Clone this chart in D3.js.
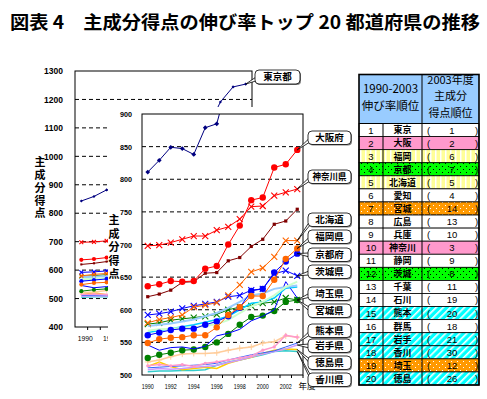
<!DOCTYPE html>
<html>
<head>
<meta charset="utf-8">
<title>主成分得点の伸び率トップ20都道府県の推移</title>
<script src="https://cdnjs.cloudflare.com/ajax/libs/d3/7.8.5/d3.min.js"></script>
<style>
    body { margin: 0; background: #fff; }
    svg { font-family: "Noto Sans CJK JP", sans-serif; }
    .num { font-family: "Liberation Sans", Arial, sans-serif; }
</style>
</head>
<body>
<svg id="chart" width="487" height="399"></svg>
<script>
// ---- data ----
const years = [1990, 1991, 1992, 1993, 1994, 1995, 1996, 1997, 1998, 1999, 2000, 2001, 2002, 2003];
const yearLabels = [1990, 1992, 1994, 1996, 1998, 2000, 2002];
const backTicks = [400, 500, 600, 700, 800, 900, 1000, 1100, 1200, 1300];
const frontTicks = [500, 550, 600, 650, 700, 750, 800, 850, 900];

const tokyo     = [811, 829, 849, 847, 838, 879, 885, 950, 1000, 1050, 1100, 1191, 1244, 1254];
const tokyoBack = [843, 859, 882, 880, 871, 912, 918, 980, 1030, 1070, 1100, 1191, 1244, 1254];
const osaka     = [636, 639, 644, 643, 644, 663, 667, 700, 729, 768, 772, 818, 823, 845];
const kanagawa  = [698, 699, 703, 708, 713, 713, 722, 727, 739, 758, 759, 775, 780, 785];
const aichi     = [620, 624, 630, 642, 643, 656, 657, 675, 680, 697, 708, 731, 736, 754];
const hokkaido  = [580, 585, 588, 592, 604, 607, 611, 622, 638, 658, 664, 681, 706, 706];
const fukuoka   = [549, 555, 557, 558, 561, 561, 573, 592, 604, 621, 621, 646, 678, 694];
const kyoto     = [561, 565, 569, 571, 571, 577, 582, 590, 603, 629, 632, 657, 674, 686];
const ibaraki   = [592, 594, 597, 602, 606, 609, 612, 620, 622, 630, 632, 655, 660, 652];
const shizuoka  = [568, 570, 571, 572, 573, 575, 578, 584, 595, 605, 612, 622, 635, 643];
const hyogo     = [575, 577, 579, 582, 585, 590, 595, 603, 612, 622, 625, 632, 635, 637];
const chiba     = [565, 568, 571, 574, 577, 581, 585, 590, 600, 610, 612, 618, 633, 635];
const hiroshima = [546, 538, 542, 543, 540, 544, 560, 564, 570, 583, 590, 600, 643, 618];
const saitama   = [578, 580, 584, 586, 588, 590, 593, 600, 604, 606, 610, 612, 618, 615];
const miyagi    = [526, 531, 534, 538, 539, 543, 550, 563, 577, 589, 591, 598, 612, 615];
const gunma     = [514, 516, 514, 516, 513, 518, 520, 523, 526, 529, 538, 543, 561, 558];
const ishikawa  = [520, 523, 528, 532, 533, 533, 534, 538, 541, 543, 549, 551, 560, 558];
const kumamoto  = [511, 512, 513, 514, 515, 516, 518, 523, 527, 531, 534, 537, 543, 549];
const iwate     = [508, 510, 509, 510, 512, 513, 515, 519, 523, 528, 532, 536, 540, 546];
const tokushima = [513, 520, 513, 508, 510, 512, 510, 518, 523, 527, 533, 538, 540, 539];
const kagawa    = [505, 506, 506, 507, 507, 508, 515, 520, 523, 527, 531, 536, 537, 536];

// table
const growthRank = [1, 2, 3, 4, 5, 6, 7, 8, 9, 10, 11, 12, 13, 14, 15, 16, 17, 18, 19, 20];
const tableNames = ["東京", "大阪", "福岡", "京都", "北海道", "愛知", "宮城", "広島", "兵庫", "神奈川",
                    "静岡", "茨城", "千葉", "石川", "熊本", "群馬", "岩手", "香川", "埼玉", "徳島"];
const scoreRank2003 = [1, 2, 6, 7, 5, 4, 14, 13, 10, 3, 9, 8, 11, 19, 20, 18, 21, 30, 12, 26];
const rowFill = ["none", "pink", "ystripe", "gdot", "ystripe", "none", "odot", "none", "none", "pink",
                 "none", "gdot", "none", "none", "cstripe", "none", "cstripe", "cstripe", "odot", "cstripe"];

const series = [
    {name: "東京都", values: tokyo, back: tokyoBack},
    {name: "大阪府", values: osaka},
    {name: "神奈川県", values: kanagawa},
    {name: "愛知県", values: aichi},
    {name: "北海道", values: hokkaido},
    {name: "福岡県", values: fukuoka},
    {name: "京都府", values: kyoto},
    {name: "茨城県", values: ibaraki},
    {name: "静岡県", values: shizuoka},
    {name: "兵庫県", values: hyogo},
    {name: "千葉県", values: chiba},
    {name: "広島県", values: hiroshima},
    {name: "埼玉県", values: saitama},
    {name: "宮城県", values: miyagi},
    {name: "群馬県", values: gunma},
    {name: "石川県", values: ishikawa},
    {name: "熊本県", values: kumamoto},
    {name: "岩手県", values: iwate},
    {name: "徳島県", values: tokushima},
    {name: "香川県", values: kagawa}
];

// ---- styles ----
const seriesStyle = {
    "東京都":   {color: "#000080", mark: "diamond", w: 1},
    "大阪府":   {color: "#ff0000", mark: "circle", w: 1},
    "神奈川県": {color: "#ff0000", mark: "x", w: 1},
    "愛知県":   {color: "#800000", mark: "square", w: 1},
    "北海道":   {color: "#ff6600", mark: "x", w: 1},
    "福岡県":   {color: "#ff6600", mark: "circle", w: 1},
    "京都府":   {color: "#0000ff", mark: "circle", w: 1},
    "茨城県":   {color: "#0000ff", mark: "x", w: 1},
    "静岡県":   {color: "#ccffcc", mark: "none", w: 2},
    "兵庫県":   {color: "#99ccff", mark: "none", w: 2},
    "千葉県":   {color: "#00ccff", mark: "none", w: 1.5},
    "広島県":   {color: "#0000ff", mark: "none", w: 1},
    "埼玉県":   {color: "#008000", mark: "x", w: 1},
    "宮城県":   {color: "#008000", mark: "circle", w: 1},
    "群馬県":   {color: "#ff99cc", mark: "dot", w: 1.5},
    "石川県":   {color: "#ffcc99", mark: "plus", w: 1.5},
    "熊本県":   {color: "#3366ff", mark: "none", w: 1},
    "岩手県":   {color: "#cc99ff", mark: "none", w: 1.5},
    "徳島県":   {color: "#ffcc00", mark: "none", w: 1.5},
    "香川県":   {color: "#33cccc", mark: "none", w: 1.5}
};

// callout boxes (name, top y)
const callouts = [
    ["大阪府", 131], ["神奈川県", 170], ["北海道", 213], ["福岡県", 230], ["京都府", 248],
    ["茨城県", 265], ["埼玉県", 287], ["宮城県", 304], ["熊本県", 324], ["岩手県", 339],
    ["徳島県", 356], ["香川県", 373]
];

const svg = d3.select("#chart");
svg.append("rect").attr("width", 487).attr("height", 399).attr("fill", "#fff");

// patterns
const defs = svg.append("defs");
let p = defs.append("pattern").attr("id", "ystripe").attr("patternUnits", "userSpaceOnUse")
    .attr("width", 5).attr("height", 5);
p.append("rect").attr("width", 5).attr("height", 5).attr("fill", "#ffff99");
p.append("rect").attr("width", 1.5).attr("height", 5).attr("fill", "#fff");

p = defs.append("pattern").attr("id", "cstripe").attr("patternUnits", "userSpaceOnUse")
    .attr("width", 5).attr("height", 5).attr("patternTransform", "rotate(45)");
p.append("rect").attr("width", 5).attr("height", 5).attr("fill", "#00ffff");
p.append("rect").attr("width", 1.6).attr("height", 5).attr("fill", "#fff");

[["gdot", "#00ff00", "#000"], ["odot", "#ff9900", "#fff"]].forEach(([id, bg, fg]) => {
    const q = defs.append("pattern").attr("id", id).attr("patternUnits", "userSpaceOnUse")
        .attr("width", 6).attr("height", 6);
    q.append("rect").attr("width", 6).attr("height", 6).attr("fill", bg);
    q.append("rect").attr("x", 1).attr("y", 1).attr("width", 1).attr("height", 1).attr("fill", fg);
    q.append("rect").attr("x", 4).attr("y", 4).attr("width", 1).attr("height", 1).attr("fill", fg);
});

function marker(g, type, cx, cy, color, k) {
    const s = 3 * k;
    if (type === "circle") {
        g.append("circle").attr("cx", cx).attr("cy", cy).attr("r", 3.2 * k).attr("fill", color);
    } else if (type === "dot") {
        g.append("circle").attr("cx", cx).attr("cy", cy).attr("r", 1.6 * k).attr("fill", color);
    } else if (type === "diamond") {
        const d = 2.4 * k;
        g.append("path").attr("d", `M${cx},${cy - d}L${cx + d},${cy}L${cx},${cy + d}L${cx - d},${cy}Z`).attr("fill", color);
    } else if (type === "square") {
        g.append("rect").attr("x", cx - 1.6 * k).attr("y", cy - 1.6 * k)
            .attr("width", 3.2 * k).attr("height", 3.2 * k).attr("fill", color);
    } else if (type === "x") {
        g.append("path").attr("d", `M${cx - s},${cy - s}L${cx + s},${cy + s}M${cx - s},${cy + s}L${cx + s},${cy - s}`)
            .attr("stroke", color).attr("stroke-width", 1.1);
    } else if (type === "plus") {
        g.append("path").attr("d", `M${cx - s},${cy}L${cx + s},${cy}M${cx},${cy - s}L${cx},${cy + s}`)
            .attr("stroke", color).attr("stroke-width", 1);
    }
}

function drawSeries(g, x, y, useBack, k) {
    const line = d3.line().x((d, i) => x(years[i])).y(d => y(d));
    series.slice().reverse().forEach(s => {
        const st = seriesStyle[s.name];
        const vals = (useBack && s.back) ? s.back : s.values;
        g.append("path").datum(vals).attr("d", line)
            .attr("fill", "none").attr("stroke", st.color).attr("stroke-width", st.w);
        if (st.mark !== "none") vals.forEach((v, i) => marker(g, st.mark, x(years[i]), y(v), st.color, k));
    });
}

// vertical axis title, one text element written top to bottom
function verticalTitle(x, yTop, spacing) {
    svg.append("text").attr("x", x).attr("y", yTop)
        .attr("writing-mode", "vertical-rl").attr("letter-spacing", spacing)
        .attr("font-size", 11).attr("font-weight", "bold").text("主成分得点");
}

// ---- title ----
svg.append("text").attr("x", 10).attr("y", 29).attr("font-size", 18).attr("font-weight", "bold")
    .attr("textLength", 470).attr("lengthAdjust", "spacingAndGlyphs")
    .text("図表 4　主成分得点の伸び率トップ 20 都道府県の推移");

// ---- back (wide) chart ----
const B = {x0: 75, x1: 252, y0: 71, y1: 327};
const coverX = 108;   // left edge of the front chart area
const xB = d3.scalePoint().domain(years).range([B.x0, B.x1]).padding(0.5);
const yB = d3.scaleLinear().domain([400, 1300]).range([B.y1, B.y0]);

svg.append("clipPath").attr("id", "clipB").append("rect")
    .attr("x", B.x0).attr("y", B.y0).attr("width", B.x1 - B.x0).attr("height", B.y1 - B.y0);
svg.append("clipPath").attr("id", "clipBL").append("rect")
    .attr("x", 0).attr("y", B.y1).attr("width", coverX).attr("height", 30);

svg.append("g").selectAll("line").data(backTicks.slice(1, -1)).join("line")
    .attr("x1", B.x0).attr("x2", B.x1).attr("y1", d => yB(d)).attr("y2", d => yB(d))
    .attr("stroke", "#000").attr("stroke-dasharray", "4,3");

drawSeries(svg.append("g").attr("clip-path", "url(#clipB)"), xB, yB, true, 0.65);

svg.append("rect").attr("x", B.x0).attr("y", B.y0).attr("width", B.x1 - B.x0).attr("height", B.y1 - B.y0)
    .attr("fill", "none").attr("stroke", "#000");

const axB = svg.append("g").attr("transform", `translate(${B.x0},0)`)
    .call(d3.axisLeft(yB).tickValues(backTicks).tickFormat(d3.format("d")).tickSize(0).tickPadding(12));
axB.select(".domain").remove();
axB.selectAll("text").attr("class", "num").attr("font-size", 8.5).attr("font-weight", "bold").attr("fill", "#000");

// only the year labels that are not under the front chart
svg.append("g").attr("clip-path", "url(#clipBL)").selectAll("text")
    .data(yearLabels.filter(d => xB(d) < coverX)).join("text")
    .attr("class", "num").attr("x", d => xB(d) + 4).attr("y", 341).attr("text-anchor", "middle")
    .attr("font-size", 8).attr("textLength", 15).attr("lengthAdjust", "spacingAndGlyphs").text(d => d);
svg.append("g").selectAll("line").data(years).join("line")
    .attr("x1", d => xB(d) + xB.step() / 2).attr("x2", d => xB(d) + xB.step() / 2)
    .attr("y1", B.y1).attr("y2", B.y1 + 3).attr("stroke", "#000");

verticalTitle(40, 156.5, 1.8);

// ---- front (zoomed) chart area covers the back one ----
svg.append("rect").attr("x", coverX).attr("y", 107).attr("width", 248).attr("height", 292).attr("fill", "#fff");

const F = {x0: 142, x1: 303, y0: 114, y1: 375};
const xF = d3.scalePoint().domain(years).range([F.x0, F.x1]).padding(0.5);
const yF = d3.scaleLinear().domain([500, 900]).range([F.y1, F.y0]);

svg.append("clipPath").attr("id", "clipF").append("rect")
    .attr("x", F.x0).attr("y", F.y0).attr("width", F.x1 - F.x0).attr("height", F.y1 - F.y0);

svg.append("g").selectAll("line").data(frontTicks.slice(1, -1)).join("line")
    .attr("x1", F.x0).attr("x2", F.x1).attr("y1", d => yF(d)).attr("y2", d => yF(d))
    .attr("stroke", "#000").attr("stroke-dasharray", "4,3");

drawSeries(svg.append("g").attr("clip-path", "url(#clipF)"), xF, yF, false, 1);

svg.append("rect").attr("x", F.x0).attr("y", F.y0).attr("width", F.x1 - F.x0).attr("height", F.y1 - F.y0)
    .attr("fill", "none").attr("stroke", "#000");

const axF = svg.append("g").attr("transform", `translate(${F.x0},0)`)
    .call(d3.axisLeft(yF).tickValues(frontTicks).tickSize(0).tickPadding(10));
axF.select(".domain").remove();
axF.selectAll("text").attr("class", "num").attr("font-size", 8).attr("font-weight", "bold")
    .attr("fill", "#000").attr("textLength", 12).attr("lengthAdjust", "spacingAndGlyphs");

svg.append("g").selectAll("text").data(yearLabels).join("text")
    .attr("class", "num").attr("x", d => xF(d)).attr("y", 389).attr("text-anchor", "middle")
    .attr("font-size", 8).attr("textLength", 12).attr("lengthAdjust", "spacingAndGlyphs").text(d => d);
svg.append("g").selectAll("line").data(years).join("line")
    .attr("x1", d => xF(d) + xF.step() / 2).attr("x2", d => xF(d) + xF.step() / 2)
    .attr("y1", F.y1).attr("y2", F.y1 + 3).attr("stroke", "#000");
svg.append("text").attr("x", 307).attr("y", 389).attr("text-anchor", "middle")
    .attr("font-size", 8.5).text("年度");

verticalTitle(114, 214.5, 2.5);

// ---- callouts ----
function callout(name, bx, by, w, h, tx, ty) {
    const my = by + h / 2;
    svg.append("path").attr("d", `M${bx + 4},${my - 2}L${tx},${ty}L${bx + 4},${my + 3}Z`)
        .attr("fill", "#fff").attr("stroke", "#000").attr("stroke-width", 0.8);
    svg.append("rect").attr("x", bx + 1).attr("y", by + 1).attr("width", w).attr("height", h)
        .attr("rx", 4).attr("fill", "#808080");
    svg.append("rect").attr("x", bx).attr("y", by).attr("width", w).attr("height", h)
        .attr("rx", 4).attr("fill", "#fff").attr("stroke", "#000").attr("stroke-width", 0.8);
    const t = svg.append("text").attr("x", bx + w / 2).attr("y", by + h / 2 + 3.4)
        .attr("text-anchor", "middle").attr("font-size", 9.5).attr("font-weight", "bold").text(name);
    if (name.length > 3) t.attr("textLength", 34).attr("lengthAdjust", "spacingAndGlyphs");
}

const last = years.length - 1;
callout("東京都", 255, 70, 45, 14, xB(years[last]), yB(tokyoBack[last]));
callouts.forEach(([name, by]) => {
    const s = series.find(d => d.name === name);
    callout(name, 308, by, 43, 13.5, xF(years[last]), yF(s.values[last]));
});

// ---- table ----
const T = {x0: 359, c1: 383, c2: 422, x1: 479, y0: 74.5, yh: 123.5, y1: 385};
const rowY = d3.scaleBand().domain(growthRank).range([T.yh, T.y1]);
const fillOf = f => f === "none" ? "#fff" : f === "pink" ? "#ff99cc" : `url(#${f})`;

svg.append("rect").attr("x", T.x0).attr("y", T.y0).attr("width", T.x1 - T.x0).attr("height", T.yh - T.y0)
    .attr("fill", "#99ccff");

const rows = svg.append("g").selectAll("g").data(growthRank).join("g");
rows.append("rect").attr("x", T.x0).attr("y", d => rowY(d)).attr("width", T.x1 - T.x0)
    .attr("height", rowY.bandwidth()).attr("fill", (d, i) => fillOf(rowFill[i]))
    .attr("stroke", "#000").attr("stroke-width", 0.8);
rows.append("text").attr("class", "num").attr("x", (T.x0 + T.c1) / 2).attr("y", d => rowY(d) + 10)
    .attr("text-anchor", "middle").attr("font-size", 9.5).text(d => d);
rows.append("text").attr("x", (T.c1 + T.c2) / 2).attr("y", d => rowY(d) + 9.9)
    .attr("text-anchor", "middle").attr("font-size", 9).attr("font-weight", "bold")
    .text((d, i) => tableNames[i]);
rows.append("text").attr("class", "num").attr("x", 427).attr("y", d => rowY(d) + 10).attr("font-size", 9.5).text("(");
rows.append("text").attr("class", "num").attr("x", 475).attr("y", d => rowY(d) + 10).attr("font-size", 9.5).text(")");
rows.append("text").attr("class", "num").attr("x", 452).attr("y", d => rowY(d) + 10)
    .attr("text-anchor", "middle").attr("font-size", 9.5).text((d, i) => scoreRank2003[i]);

svg.append("line").attr("x1", T.c1).attr("x2", T.c1).attr("y1", T.yh).attr("y2", T.y1).attr("stroke", "#000");
svg.append("line").attr("x1", T.c2).attr("x2", T.c2).attr("y1", T.y0).attr("y2", T.y1).attr("stroke", "#000");
svg.append("line").attr("x1", T.x0).attr("x2", T.x1).attr("y1", T.yh).attr("y2", T.yh).attr("stroke", "#000");
svg.append("rect").attr("x", T.x0).attr("y", T.y0).attr("width", T.x1 - T.x0).attr("height", T.y1 - T.y0)
    .attr("fill", "none").attr("stroke", "#000").attr("stroke-width", 1.6);

[["1990-2003", 93], ["伸び率順位", 110]].forEach(([s, y]) => {
    svg.append("text").attr("x", (T.x0 + T.c2) / 2).attr("y", y).attr("text-anchor", "middle")
        .attr("font-size", 11.5).text(s);
});
[["2003年度", 84], ["主成分", 100], ["得点順位", 117]].forEach(([s, y]) => {
    svg.append("text").attr("x", (T.c2 + T.x1) / 2).attr("y", y).attr("text-anchor", "middle")
        .attr("font-size", 11).text(s);
});
</script>
</body>
</html>
